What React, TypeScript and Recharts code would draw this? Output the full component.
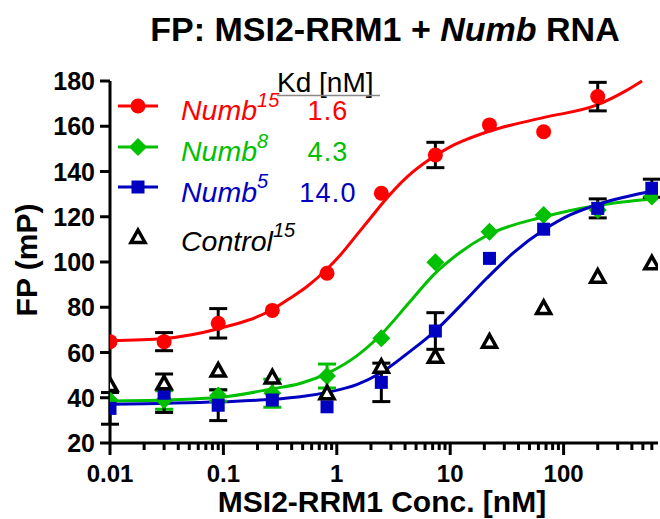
import React from 'react';
import { ComposedChart, XAxis, YAxis, Scatter, Line, ErrorBar, Customized } from 'recharts';

const FONT = '"Liberation Sans", Arial, Helvetica, sans-serif';
const RED = '#FF0000';
const GREEN = '#00C000';
const BLUE = '#0000C0';

// concentrations (nM)
const concentrations = [0.01, 0.03, 0.09, 0.27, 0.82, 2.47, 7.4, 22.2, 66.7, 200, 600];

// Numb15 (red)
const numb15Values = [64.8, 64.8, 72.9, 78.6, 95, 130.4, 147.3, 160.6, 157.6, 173.1, null];
const numb15Errors = [null, 4, 6.5, null, null, null, 5.6, null, null, 6.3, null];
// Numb8 (green)
const numb8Values = [38.8, 39, 41, 42, 49.6, 66.3, 99.9, 113.4, 120.8, 123, 128.9];
const numb8Errors = [null, 4.1, 2.5, 6.2, 5.3, null, null, null, null, null, null];
// Numb5 (blue)
const numb5Values = [35.3, 42, 36.7, 39, 36, 46.8, 69.5, 101.6, 114.5, 123.7, 132.6];
const numb5Errors = [7, 8.5, 6.8, null, null, 8.5, 8.1, null, null, 4.2, 4];
// Control15 (open triangles)
const controlValues = [45.6, 46.4, 52, 49, 42, 53.7, 58.1, 64.8, 79.7, 93.5, 99.4];

// fitted curves
const numb15CurveX = [0.01, 0.03, 0.09, 0.27, 0.387, 0.55, 0.816, 1.07, 1.5, 2.1, 2.56, 4.15, 6.65, 9.9, 12.8, 22, 66, 197, 350, 492];
const numb15CurveY = [65.2, 66.2, 70.5, 79, 84, 89.3, 96.8, 103, 112, 121, 126.3, 137.5, 145.5, 150.8, 153.4, 157.8, 163.8, 169.4, 175.5, 180];
const numb8CurveX = [0.01, 0.03, 0.094, 0.274, 0.474, 0.843, 1.5, 2.41, 4.43, 7.1, 12.2, 21, 66, 197, 620];
const numb8CurveY = [38.6, 39, 40.2, 44, 46.3, 51, 58.5, 67.5, 82.5, 94.2, 104.2, 111.7, 119.9, 125, 128];
const numb5CurveX = [0.01, 0.094, 0.274, 0.474, 0.843, 1.5, 2.41, 4.43, 7.1, 12.2, 21, 36, 66, 114, 197, 660];
const numb5CurveY = [37.1, 38.2, 39.3, 40.4, 42.5, 45.8, 50.8, 60.5, 68.8, 80.5, 92.8, 104, 114, 120.8, 125.3, 131.7];

// axes
const xTicks = [
  0.01, 0.02, 0.03, 0.04, 0.05, 0.06, 0.07, 0.08, 0.09,
  0.1, 0.2, 0.3, 0.4, 0.5, 0.6, 0.7, 0.8, 0.9,
  1, 2, 3, 4, 5, 6, 7, 8, 9,
  10, 20, 30, 40, 50, 60, 70, 80, 90,
  100, 200, 300, 400, 500, 600,
];
const xMajorTicks = [0.01, 0.1, 1, 10, 100];
const xTickLabels = ['0.01', '0.1', '1', '10', '100'];
const yTicks = [20, 40, 60, 80, 100, 120, 140, 160, 180];

// legend
const legendNames = ['Numb', 'Numb', 'Numb', 'Control'];
const legendSups = ['15', '8', '5', '15'];
const legendColors = [RED, GREEN, BLUE, '#000'];
const kdValues = ['1.6', '4.3', '14.0'];

const pts = (vals: (number | null)[], errs?: (number | null)[]) =>
  concentrations
    .map((x, i) => ({ x, y: vals[i], err: errs ? errs[i] : null }))
    .filter((d) => d.y !== null);
const curve = (xs: number[], ys: number[]) => xs.map((x, i) => ({ x, y: ys[i] }));

const circleShape = (p: any) => <circle cx={p.cx} cy={p.cy} r={7.5} fill={RED} />;
const diamondShape = (p: any) => (
  <polygon
    points={`${p.cx},${p.cy - 9} ${p.cx + 9},${p.cy} ${p.cx},${p.cy + 9} ${p.cx - 9},${p.cy}`}
    fill={GREEN}
  />
);
const squareShape = (p: any) => <rect x={p.cx - 6.5} y={p.cy - 6.5} width={13} height={13} fill={BLUE} />;
const triangleShape = (p: any) => (
  <polygon
    points={`${p.cx},${p.cy - 7} ${p.cx + 7},${p.cy + 5.5} ${p.cx - 7},${p.cy + 5.5}`}
    fill="#fff"
    stroke="#000"
    strokeWidth={3.5}
  />
);

const XTick = (props: any) => {
  const { x, y, payload } = props;
  const idx = xMajorTicks.indexOf(payload.value);
  const major = idx >= 0;
  return (
    <g>
      <line x1={x} x2={x} y1={y} y2={y + (major ? 12 : 7)} stroke="#000" strokeWidth={3} />
      {major && (
        <text x={x} y={y + 39} textAnchor="middle" fontFamily={FONT} fontWeight="bold" fontSize={24} fill="#000">
          {xTickLabels[idx]}
        </text>
      )}
    </g>
  );
};

const YTick = (props: any) => {
  const { x, y, payload } = props;
  return (
    <g>
      <line x1={x - 10} x2={x} y1={y} y2={y} stroke="#000" strokeWidth={3} />
      <text x={x - 15} y={y + 9} textAnchor="end" fontFamily={FONT} fontWeight="bold" fontSize={25} fill="#000">
        {payload.value}
      </text>
    </g>
  );
};

const legendMarker = (i: number, cx: number, cy: number) => {
  if (i === 0) return <circle cx={cx} cy={cy} r={7.5} fill={RED} />;
  if (i === 1) return diamondShape({ cx, cy });
  if (i === 2) return squareShape({ cx, cy });
  return triangleShape({ cx, cy });
};

const Overlay = () => {
  const markerY = [106, 147, 187, 237];
  const textY = [120, 161, 201.5, 250.5];
  return (
    <g fontFamily={FONT}>
      <text x={385} y={41} textAnchor="middle" fontSize={34} fontWeight="bold" fill="#000">
        FP: MSI2-RRM1 + <tspan fontStyle="italic">Numb</tspan> RNA
      </text>
      <text transform="translate(37,260) rotate(-90)" textAnchor="middle" fontSize={30} fontWeight="bold" fill="#000">
        FP (mP)
      </text>
      <text x={382} y={512} textAnchor="middle" fontSize={30} fontWeight="bold" fill="#000">
        MSI2-RRM1 Conc. [nM]
      </text>
      <text x={277} y={92} fontSize={28} fill="#000">
        Kd [nM]
      </text>
      <line x1={277} x2={380} y1={95.5} y2={95.5} stroke="#888" strokeWidth={1.5} />
      {legendNames.map((name, i) => (
        <g key={i}>
          {i < 3 && <line x1={118} x2={158} y1={markerY[i]} y2={markerY[i]} stroke={legendColors[i]} strokeWidth={3} />}
          {legendMarker(i, 138, markerY[i])}
          <text x={181} y={textY[i]} fontSize={28.5} fontStyle="italic" fill={legendColors[i]}>
            {name}
            <tspan dy={-13.5} fontSize={20}>
              {legendSups[i]}
            </tspan>
          </text>
          {i < 3 && (
            <text x={328} y={textY[i]} textAnchor="middle" fontSize={27} letterSpacing={1.2} fill={legendColors[i]}>
              {kdValues[i]}
            </text>
          )}
        </g>
      ))}
    </g>
  );
};

export default function App() {
  return (
    <div style={{ position: 'absolute', left: 0, top: 0, background: '#fff' }}>
      <ComposedChart width={660} height={519} margin={{ top: 81, right: 2, bottom: 0, left: 0 }}>
        <XAxis
          dataKey="x"
          type="number"
          scale="log"
          domain={[0.01, 680]}
          allowDataOverflow
          ticks={xTicks}
          interval={0}
          tick={<XTick />}
          tickLine={false}
          tickSize={0}
          tickMargin={0}
          height={76}
          axisLine={{ stroke: '#000', strokeWidth: 3 }}
        />
        <YAxis
          type="number"
          domain={[20, 180]}
          ticks={yTicks}
          interval={0}
          tick={<YTick />}
          tickLine={false}
          tickSize={0}
          tickMargin={0}
          width={110}
          axisLine={{ stroke: '#000', strokeWidth: 3 }}
        />
        <Line data={curve(numb8CurveX, numb8CurveY)} dataKey="y" type="monotone" stroke={GREEN} strokeWidth={3} dot={false} activeDot={false} isAnimationActive={false} />
        <Line data={curve(numb5CurveX, numb5CurveY)} dataKey="y" type="monotone" stroke={BLUE} strokeWidth={3} dot={false} activeDot={false} isAnimationActive={false} />
        <Line data={curve(numb15CurveX, numb15CurveY)} dataKey="y" type="monotone" stroke={RED} strokeWidth={3} dot={false} activeDot={false} isAnimationActive={false} />
        <Scatter data={pts(numb8Values, numb8Errors)} dataKey="y" shape={diamondShape} isAnimationActive={false}>
          <ErrorBar dataKey="err" direction="y" width={9} strokeWidth={3} stroke={GREEN} />
        </Scatter>
        <Scatter data={pts(numb5Values, numb5Errors)} dataKey="y" shape={squareShape} isAnimationActive={false}>
          <ErrorBar dataKey="err" direction="y" width={9} strokeWidth={3} stroke="#000" />
        </Scatter>
        <Scatter data={pts(numb15Values, numb15Errors)} dataKey="y" shape={circleShape} isAnimationActive={false}>
          <ErrorBar dataKey="err" direction="y" width={9} strokeWidth={3} stroke="#000" />
        </Scatter>
        <Scatter data={pts(controlValues)} dataKey="y" shape={triangleShape} isAnimationActive={false} />
        <Customized component={Overlay} />
      </ComposedChart>
    </div>
  );
}
